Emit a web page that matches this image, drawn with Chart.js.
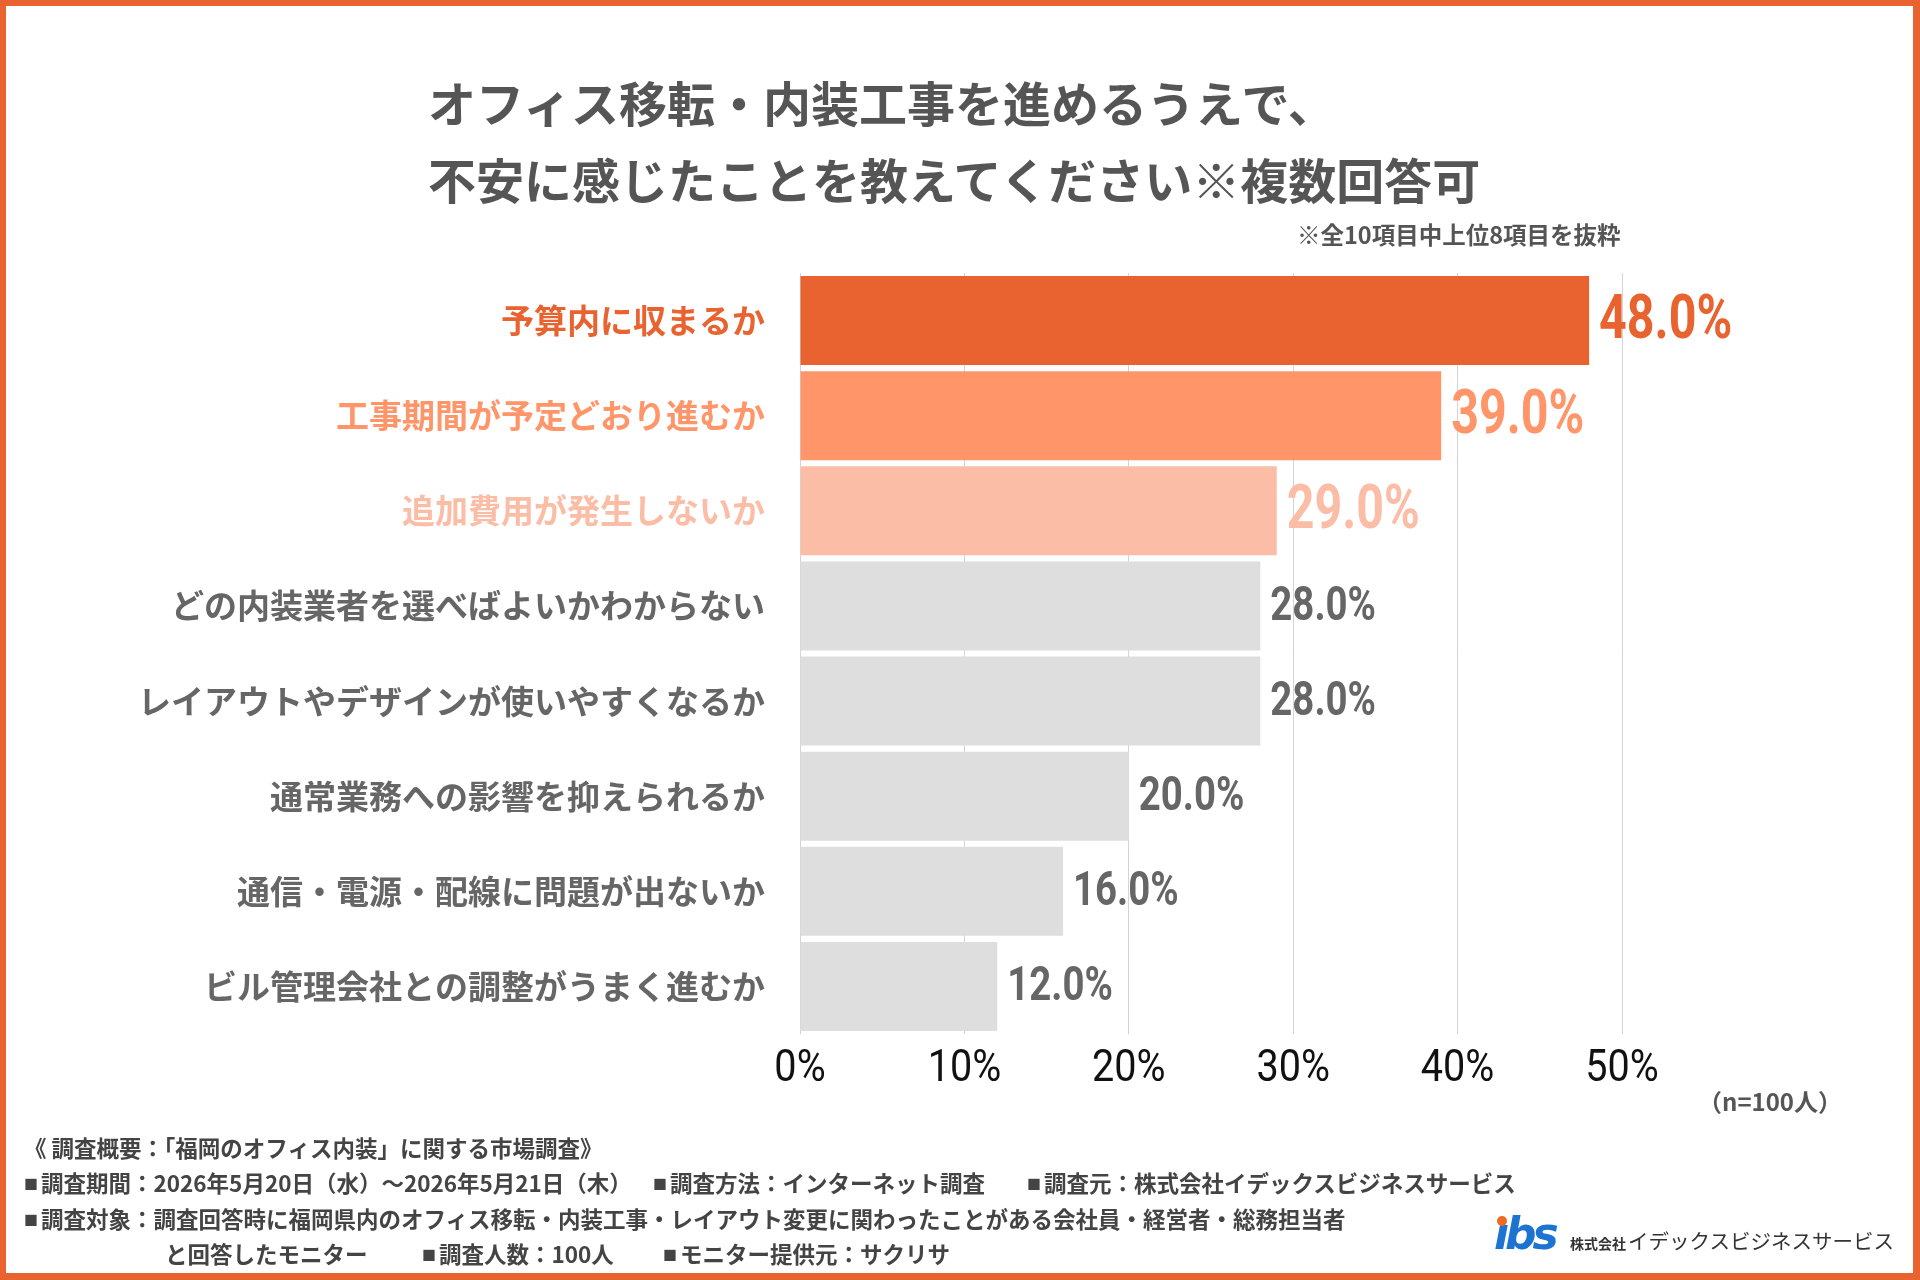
<!DOCTYPE html>
<html lang="ja">
<head>
<meta charset="utf-8">
<script src="https://cdn.jsdelivr.net/npm/chart.js@4.4.1/dist/chart.umd.min.js"></script>
<style>
  html, body { margin: 0; padding: 0; background: #fff; }
  body { width: 1920px; height: 1280px; position: relative; overflow: hidden;
         font-family: "Noto Sans CJK JP", "Noto Sans", sans-serif; }
  .frame { position: absolute; left: 0; top: 0; width: 1920px; height: 1280px; box-sizing: border-box;
           border: solid #E8632F; border-width: 6px 7px 7px 6px; pointer-events: none; z-index: 5; }
  #chartWrap { position: absolute; left: 0; top: 0; width: 1920px; height: 1280px; }
  .title { position: absolute; left: 428px; top: 63px; font-size: 48px; font-weight: 700; color: #555;
           line-height: 77px; white-space: nowrap; }
  .note { position: absolute; font-weight: 700; color: #555; white-space: nowrap; }
  .foot { position: absolute; font-size: 22.5px; font-weight: 700; color: #444; white-space: nowrap; }
  .sq { font-size: 14px; position: relative; top: -3px; margin-right: 3px; }
  .logo { position: absolute; left: 1494px; top: 1209px; font-family: "DejaVu Sans", sans-serif; font-weight: 700;
          font-style: italic; font-size: 44px; color: #1d74d0; letter-spacing: -4px; line-height: 50px; }
  .logo-dot { position: absolute; left: 1497px; top: 1216px; width: 10px; height: 10px; border-radius: 50%; background: #f26a22; }
  .company { position: absolute; left: 1570px; top: 1225px; font-size: 20.5px; color: #333; white-space: nowrap; }
  .company small { font-size: 14px; font-weight: 700; margin-right: 2px; }
</style>
</head>
<body>
<div id="chartWrap"><canvas id="surveyChart" width="1920" height="1280"></canvas></div>
<div class="frame"></div>
<div class="title">オフィス移転・内装工事を進めるうえで、<br>不安に感じたことを教えてください※複数回答可</div>
<div class="note" style="left:1297px; top:217px; font-size:23.5px;">※全10項目中上位8項目を抜粋</div>
<div class="note" style="left:1698px; top:1083px; font-size:24px;">（n=100人）</div>
<div class="foot" style="left:24px; top:1131px;">《 調査概要：「福岡のオフィス内装」に関する市場調査》</div>
<div class="foot" style="left:24px; top:1166px;"><span class="sq">■</span>調査期間：2026年5月20日（水）～2026年5月21日（木）</div>
<div class="foot" style="left:653px; top:1166px;"><span class="sq">■</span>調査方法：インターネット調査</div>
<div class="foot" style="left:1027px; top:1166px;"><span class="sq">■</span>調査元：株式会社イデックスビジネスサービス</div>
<div class="foot" style="left:24px; top:1202px;"><span class="sq">■</span>調査対象：調査回答時に福岡県内のオフィス移転・内装工事・レイアウト変更に関わったことがある会社員・経営者・総務担当者</div>
<div class="foot" style="left:165px; top:1237px;">と回答したモニター</div>
<div class="foot" style="left:422px; top:1237px;"><span class="sq">■</span>調査人数：100人</div>
<div class="foot" style="left:663px; top:1237px;"><span class="sq">■</span>モニター提供元：サクリサ</div>
<div class="logo">ıbs</div>
<div class="logo-dot"></div>
<div class="company"><small>株式会社</small>イデックスビジネスサービス</div>

<script>
const categories = [
    '予算内に収まるか',
    '工事期間が予定どおり進むか',
    '追加費用が発生しないか',
    'どの内装業者を選べばよいかわからない',
    'レイアウトやデザインが使いやすくなるか',
    '通常業務への影響を抑えられるか',
    '通信・電源・配線に問題が出ないか',
    'ビル管理会社との調整がうまく進むか'
];
const values = [48.0, 39.0, 29.0, 28.0, 28.0, 20.0, 16.0, 12.0];
const tickValues = [0, 10, 20, 30, 40, 50];

const barColors = ['#E8632F', '#FF9569', '#FBBDA6', '#DEDEDE', '#DEDEDE', '#DEDEDE', '#DEDEDE', '#DEDEDE'];
const textColors = ['#E8632F', '#FF9569', '#FBBDA6', '#666666', '#666666', '#666666', '#666666', '#666666'];
const numFont = 'Roboto, "Liberation Sans", sans-serif';

// squeeze text horizontally so Roboto looks like the condensed face in the reference
function narrowText(ctx, txt, x, y, sx) {
    ctx.save();
    ctx.translate(x, y);
    ctx.scale(sx, 1);
    ctx.fillText(txt, 0, 0);
    ctx.restore();
}

const valueLabels = {
    id: 'valueLabels',
    afterDatasetsDraw(chart) {
        const ctx = chart.ctx;
        const meta = chart.getDatasetMeta(0);
        ctx.save();
        ctx.textBaseline = 'middle';
        ctx.textAlign = 'left';
        meta.data.forEach((bar, i) => {
            const big = i < 3;
            ctx.font = 'bold ' + (big ? 62 : 48) + 'px ' + numFont;
            ctx.fillStyle = textColors[i];
            narrowText(ctx, values[i].toFixed(1) + '%', bar.x + 10, bar.y + 2, big ? 0.78 : 0.8);
        });
        // x tick labels
        const xs = chart.scales.x;
        ctx.font = '45px ' + numFont;
        ctx.fillStyle = '#111';
        ctx.textAlign = 'center';
        tickValues.forEach(v => {
            narrowText(ctx, v + '%', xs.getPixelForValue(v), chart.chartArea.bottom + 36, 0.88);
        });
        ctx.restore();
    }
};

const surveyCtx = document.getElementById('surveyChart').getContext('2d');
new Chart(surveyCtx, {
    type: 'bar',
    data: {
        labels: categories,
        datasets: [{
            data: values,
            backgroundColor: barColors,
            borderWidth: 0,
            categoryPercentage: 1,
            barPercentage: 0.935
        }]
    },
    options: {
        indexAxis: 'y',
        responsive: false,
        animation: false,
        layout: { padding: { left: 0, right: 298, top: 273, bottom: 166 } },
        plugins: { legend: { display: false }, tooltip: { enabled: false } },
        scales: {
            x: {
                min: 0,
                max: 50,
                afterBuildTicks: (scale) => { scale.ticks = tickValues.map(v => ({ value: v })); },
                afterFit: (scale) => { scale.height = 80; },
                grid: { color: '#d4d4d4', lineWidth: 1, drawTicks: false },
                border: { display: false },
                ticks: {
                    padding: 12,
                    color: 'rgba(0,0,0,0)',
                    font: { family: numFont, size: 40 },
                    callback: (v) => v + '%'
                }
            },
            y: {
                afterFit: (scale) => { scale.width = 800; },
                grid: { display: false, drawTicks: false },
                border: { display: false },
                ticks: {
                    padding: 35,
                    color: (c) => textColors[c.index],
                    font: { family: '"Noto Sans CJK JP", sans-serif', size: 33, weight: 'bold' }
                }
            }
        }
    },
    plugins: [valueLabels]
});
</script>
</body>
</html>
